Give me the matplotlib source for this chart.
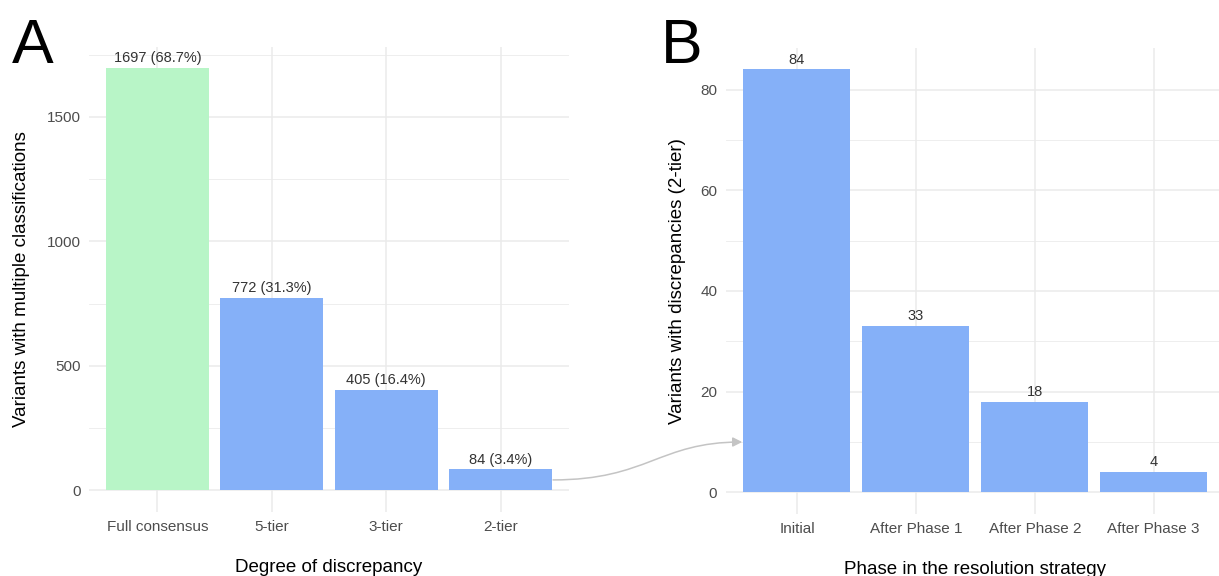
import matplotlib.pyplot as plt
from matplotlib.patches import FancyArrowPatch
from matplotlib.path import Path
from matplotlib.ticker import MultipleLocator

plt.rcParams['font.family'] = ['Liberation Sans', 'DejaVu Sans']

# panel A data
cats_a = ['Full consensus', '5-tier', '3-tier', '2-tier']
counts_a = [1697, 772, 405, 84]
total_a = counts_a[0] + counts_a[1]

# panel B data
cats_b = ['Initial', 'After Phase 1', 'After Phase 2', 'After Phase 3']
counts_b = [84, 33, 18, 4]

green = '#b8f5c7'
blue = '#85b0f8'
grid_col = '#ebebeb'
tick_col = '#4d4d4d'

W, H = 1219, 576
fig = plt.figure(figsize=(W / 100, H / 100), dpi=100)

axA = fig.add_axes([88.8 / W, 64.5 / H, 480.4 / W, 464.8 / H])
axB = fig.add_axes([725.6 / W, 62.5 / H, 499.4 / W, 465.2 / H])


def style(ax, ymax, major, minor):
    for s in ax.spines.values():
        s.set_visible(False)
    ax.set_xlim(-0.6, 3.6)
    ax.set_ylim(-ymax * 0.05, ymax * 1.05)
    ax.yaxis.set_major_locator(MultipleLocator(major))
    ax.yaxis.set_minor_locator(MultipleLocator(minor))
    ax.grid(True, which='major', color=grid_col, lw=1.1, zorder=0)
    ax.grid(True, which='minor', axis='y', color=grid_col, lw=0.6, zorder=0)
    ax.set_axisbelow(True)
    ax.tick_params(which='both', length=0, labelsize=11, colors=tick_col)
    ax.tick_params(axis='x', pad=6)
    ax.tick_params(axis='y', pad=6)


# panel A
xa = range(len(cats_a))
colors_a = [green] + [blue] * (len(cats_a) - 1)
axA.bar(xa, counts_a, width=0.9, color=colors_a, zorder=2)
style(axA, max(counts_a), 500, 250)
axA.set_xticks(list(xa))
axA.set_xticklabels(cats_a)
for i, v in enumerate(counts_a):
    axA.annotate(f'{v} ({v / total_a * 100:.1f}%)', (i, v), xytext=(0, 2),
                 textcoords='offset points', ha='center', va='bottom',
                 fontsize=10.5, color='#333333')
axA.set_xlabel('Degree of discrepancy', fontsize=13.5, labelpad=18)
axA.set_ylabel('Variants with multiple classifications', fontsize=13.5, labelpad=12)

# panel B
xb = range(len(cats_b))
axB.bar(xb, counts_b, width=0.9, color=blue, zorder=2)
style(axB, max(counts_b), 20, 10)
axB.set_xticks(list(xb))
axB.set_xticklabels(cats_b)
for i, v in enumerate(counts_b):
    axB.annotate(str(v), (i, v), xytext=(0, 2), textcoords='offset points',
                 ha='center', va='bottom', fontsize=10.5, color='#333333')
axB.set_xlabel('Phase in the resolution strategy', fontsize=13.5, labelpad=18)
axB.set_ylabel('Variants with discrepancies (2-tier)', fontsize=13.5, labelpad=10)

# panel letters
fig.text(12 / W, (H - 63) / H, 'A', fontsize=45, va='baseline', ha='left')
fig.text(661 / W, (H - 63) / H, 'B', fontsize=45, va='baseline', ha='left')

# connecting arrow from the 2-tier bar to the Initial bar
p0 = axA.transData.transform((3.45, counts_a[3] / 2))
p3 = axB.transData.transform((-0.46, 10))
p0[0] += 1
dx = p3[0] - p0[0]
p1 = (p0[0] + 0.5 * dx, p0[1])
p2 = (p0[0] + 0.56 * dx, p3[1])
inv = fig.transFigure.inverted()
verts = [inv.transform(p) for p in (p0, p1, p2, p3)]
path = Path(verts, [Path.MOVETO, Path.CURVE4, Path.CURVE4, Path.CURVE4])
arrow = FancyArrowPatch(path=path, arrowstyle='-|>', mutation_scale=14,
                        color='#c4c4c4', lw=1.1, transform=fig.transFigure)
fig.patches.append(arrow)

fig.savefig('out.png', dpi=100)
